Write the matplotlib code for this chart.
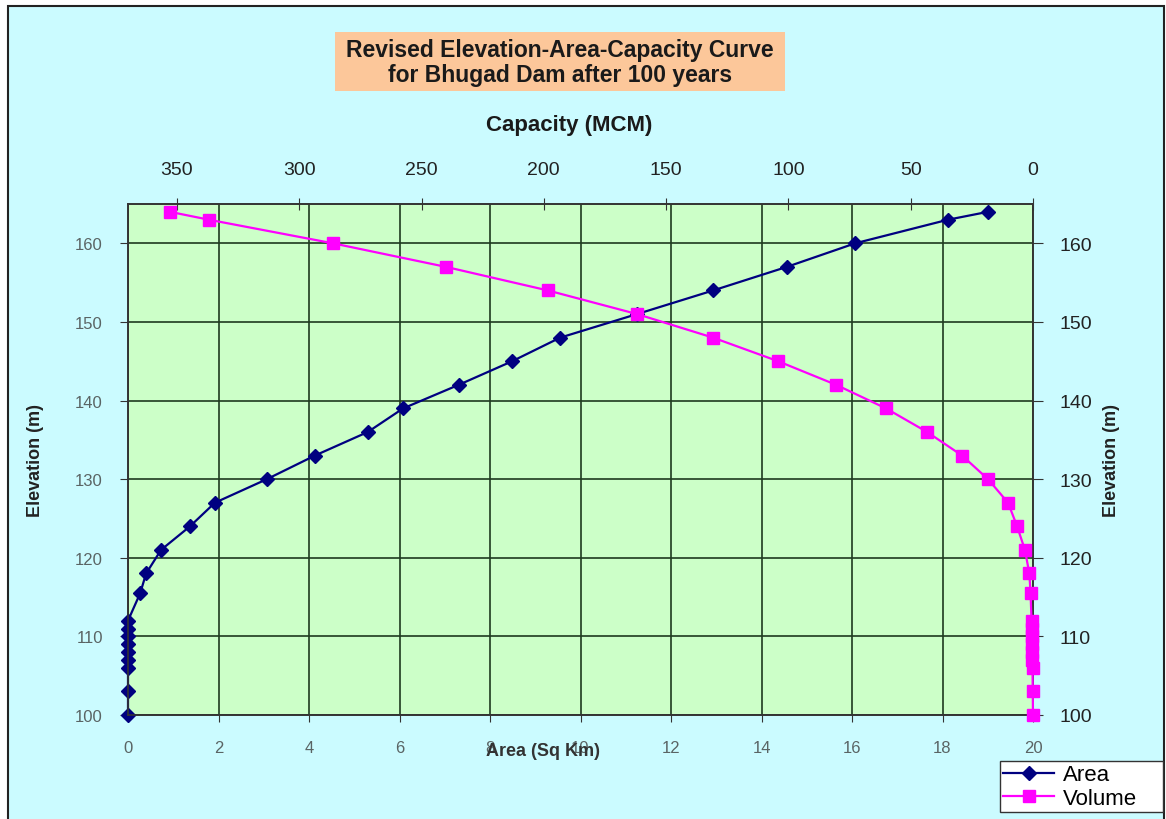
import numpy as np
import matplotlib.pyplot as plt
from matplotlib.patches import Rectangle

plt.rcParams['font.family'] = ['Liberation Sans', 'DejaVu Sans']

# data
elevation = [100, 103, 106, 107, 108, 109, 110, 111, 112, 115.5, 118, 121, 124, 127,
             130, 133, 136, 139, 142, 145, 148, 151, 154, 157, 160, 163, 164]
area_sqkm = [0, 0, 0, 0, 0, 0, 0, 0, 0, 0.27, 0.40, 0.73, 1.37, 1.92,
             3.07, 4.13, 5.30, 6.08, 7.31, 8.49, 9.55, 11.25, 12.93, 14.56, 16.07, 18.12, 19.0]
capacity_mcm = [0, 0.1, 0.2, 0.3, 0.3, 0.4, 0.5, 0.5, 0.6, 1.0, 1.5, 3.3, 6.5, 10.2,
                18.4, 29.0, 43.3, 60.1, 80.5, 104.2, 130.8, 161.9, 198.3, 240.0, 286.2, 336.9, 352.8]

area_ticks = np.arange(0, 21, 2)
capacity_ticks = np.arange(0, 351, 50)
elev_ticks = np.arange(100, 161, 10)

title = "Revised Elevation-Area-Capacity Curve\nfor Bhugad Dam after 100 years"

W, H = 1166, 820
fig = plt.figure(figsize=(W / 100, H / 100), dpi=100)
fig.patch.set_facecolor('white')

# chart area background with frame
fig.add_artist(Rectangle((8 / W, -0.02), (1164 - 8) / W, (H - 7) / H + 0.02,
                         transform=fig.transFigure, facecolor='#CBFBFF',
                         edgecolor='#222222', linewidth=1.5, zorder=-2))

# title box
fig.add_artist(Rectangle((335 / W, 1 - 92 / H), 450 / W, 59 / H,
                         transform=fig.transFigure, facecolor='#FCC79A',
                         edgecolor='none', zorder=-1))
fig.text(560 / W, 1 - 63 / H, title, ha='center', va='center', fontsize=16.5,
         fontweight='bold', color='#1a1a1a', linespacing=1.12)

ax = fig.add_axes([128 / W, 1 - 716 / H, 905 / W, 511 / H])
ax.set_facecolor('#CCFFC8')
ax.set_xlim(0, 20)
ax.set_ylim(100, 165)
ax.set_xticks(area_ticks)
ax.set_yticks(elev_ticks)
ax.grid(True, color='#1f3a1f', linewidth=1.2)
ax.set_axisbelow(True)
for s in ax.spines.values():
    s.set_color('#333333')
    s.set_linewidth(1.2)

h1, = ax.plot(area_sqkm, elevation, color='#000080', marker='D', ms=7,
              lw=1.6, label='Area', clip_on=False, zorder=3)

ax.tick_params(axis='x', direction='out', length=5, pad=13, labelsize=12,
               labelcolor='#5a6464', color='#333333')
ax.tick_params(axis='y', direction='out', length=6, pad=12, labelsize=12,
               labelcolor='#5a6464', color='#333333')

ax.set_xlabel('Area (Sq Km)', fontsize=13, fontweight='bold', color='#333333')
ax.xaxis.set_label_coords((543 - 128) / 905, (716 - 752) / 511)
ax.xaxis.label.set_va('center')
ax.set_ylabel('Elevation (m)', fontsize=13, fontweight='bold', color='#222222')
ax.yaxis.set_label_coords((35 - 128) / 905, 0.5)
ax.yaxis.label.set_va('center')

# capacity on a reversed top axis
ax2 = ax.twiny()
ax2.set_xlim(370, 0)
ax2.set_xticks(capacity_ticks)
h2, = ax2.plot(capacity_mcm, elevation, color='#FF00FF', marker='s', ms=8.5,
               lw=1.6, label='Volume', clip_on=False, zorder=3)
ax2.tick_params(axis='x', direction='inout', length=8, pad=15, labelsize=14,
                labelcolor='#222222', color='#333333')
ax2.set_xlabel('Capacity (MCM)', fontsize=16, fontweight='bold', color='#1a1a1a')
ax2.xaxis.set_label_coords((569 - 128) / 905, (716 - 125) / 511)
ax2.xaxis.label.set_va('center')

# elevation repeated on the right
ax2.yaxis.set_visible(True)
ax2.yaxis.tick_right()
ax2.yaxis.set_label_position('right')
ax2.tick_params(axis='y', direction='out', length=7, pad=12, labelsize=14,
                labelcolor='#222222', color='#333333')
ax2.set_ylabel('Elevation (m)', fontsize=13, fontweight='bold', color='#222222')
ax2.yaxis.set_label_coords((1111 - 128) / 905, 0.5)
ax2.yaxis.label.set_va('center')
for s in ax2.spines.values():
    s.set_color('#333333')
    s.set_linewidth(1.2)

leg_h = 60 / H
leg = fig.legend(handles=[h1, h2], loc='upper left', mode='expand',
                 bbox_to_anchor=(1000 / W, 1 - 762 / H - leg_h, 163 / W, leg_h),
                 fontsize=16, frameon=True, fancybox=False, edgecolor='#333333',
                 framealpha=1, borderpad=0.15, labelspacing=0.1,
                 handlelength=2.3, handletextpad=0.4, borderaxespad=0)
leg.get_frame().set_linewidth(1.0)

fig.savefig('out.png', dpi=100)
